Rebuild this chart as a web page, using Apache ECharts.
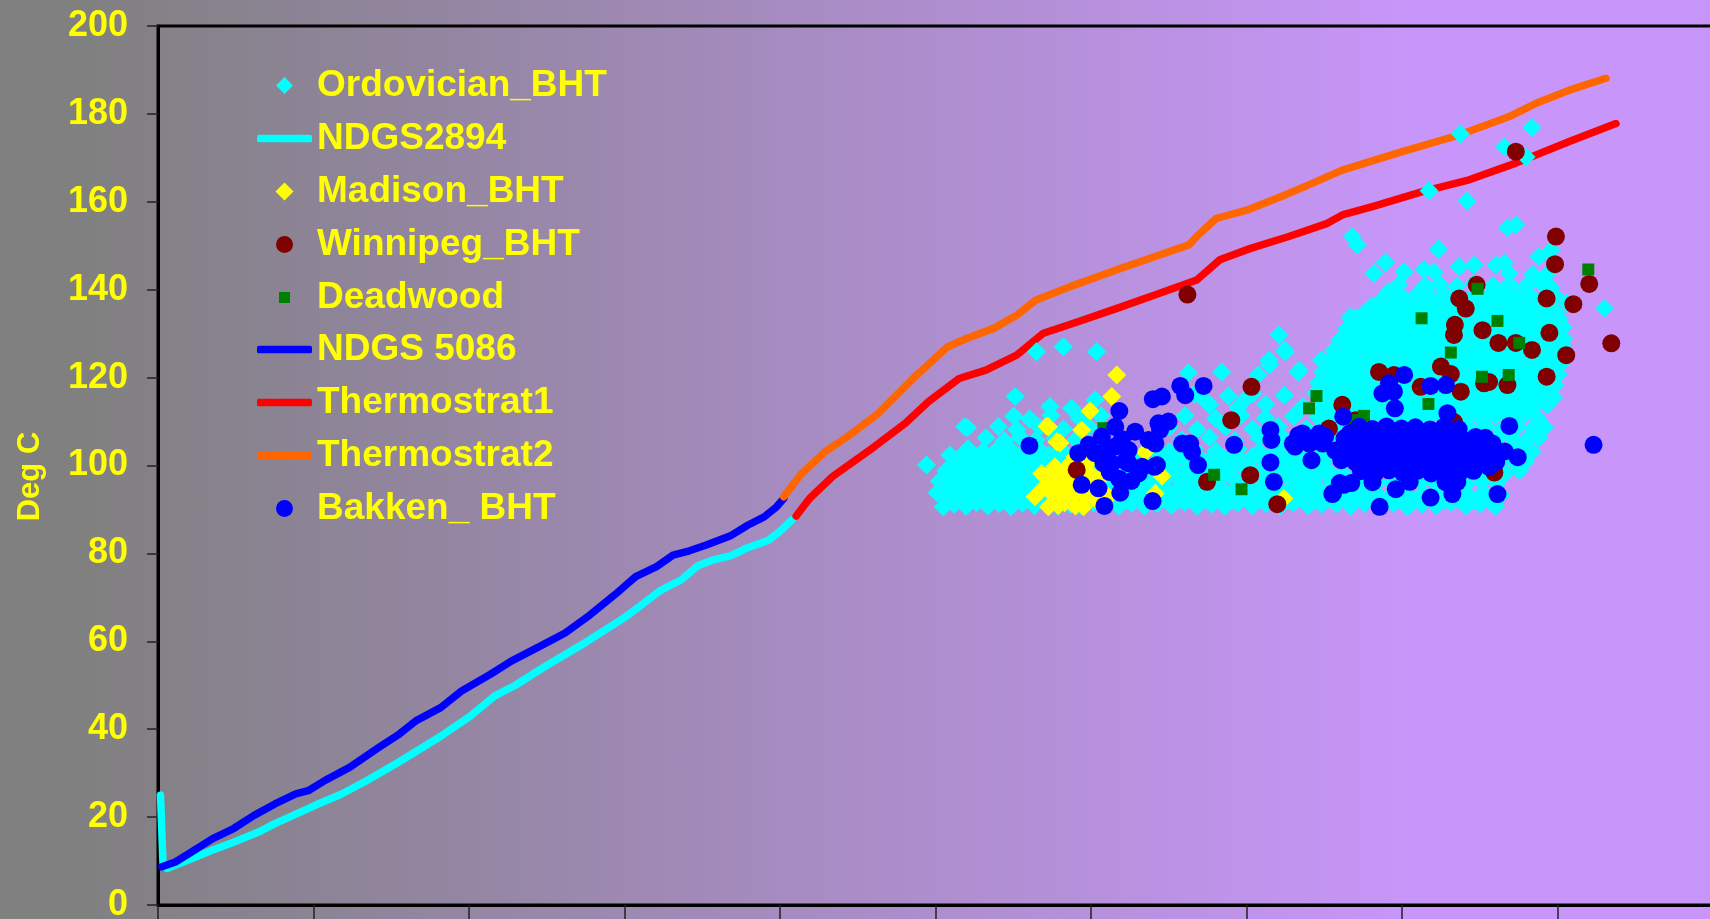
<!DOCTYPE html>
<html>
<head>
<meta charset="utf-8">
<script src="https://cdn.jsdelivr.net/npm/echarts@6/dist/echarts.min.js"></script>
<style>
  html, body { margin: 0; padding: 0; }
  #chart {
    width: 1710px; height: 919px;
    background: linear-gradient(to right, #808080 0px, #808080 80px, #C896FA 1420px, #C896FA 1710px);
  }
</style>
</head>
<body>
<div id="chart"></div>
<script>
// Depth (m) vs temperature (deg C): Williston basin temperature logs and bottom-hole temperatures.

// Temperature logs [depth, temp]
const ndgs2894 = [
  [8,25],[16,9.5],[29,8.3],[109,10.6],[176,12.5],[243,14.3],[323,16.6],[376,18.5],[509,22.8],[589,25.2],
  [669,28.2],[776,32.6],[909,38.4],[1003,42.9],[1083,47.6],[1149,50.0],[1243,54.2],[1376,59.8],[1496,65.2],
  [1549,68.0],[1616,71.6],[1683,74.0],[1736,77.2],[1789,78.6],[1843,79.5],[1896,81.3],[1963,83.0],[2003,85.2],[2038,87.6]
];
const ndgs5086 = [
  [12,8.7],[56,9.8],[109,12.1],[176,15.1],[243,17.4],[309,20.4],[376,23.0],[443,25.3],[483,26.0],[536,28.3],
  [616,31.3],[709,35.8],[776,38.9],[829,41.9],[909,44.9],[976,48.7],[1069,52.5],[1136,55.5],[1229,58.9],
  [1309,61.9],[1389,66.0],[1469,70.6],[1536,74.7],[1603,77.0],[1656,79.6],[1709,80.6],[1763,81.9],
  [1843,84.1],[1896,86.4],[1949,88.3],[1989,90.6],[2012,92.5]
];
const thermostrat1 = [
  [2052,88.5],[2095,92.5],[2169,97.5],[2304,104.3],[2403,109.6],[2477,114.5],[2576,119.8],[2662,121.7],
  [2761,125.1],[2847,130.1],[2958,132.7],[3081,135.7],[3205,138.8],[3340,142.2],[3414,146.8],[3513,149.4],
  [3636,152.1],[3760,155.1],[3808,157.0],[3905,158.9],[4066,162.3],[4216,165.0],[4366,168.8],[4538,173.7],[4688,177.8]
];
const thermostrat2 = [
  [2012,92.9],[2070,98.2],[2144,103.1],[2218,106.6],[2317,111.9],[2440,120.6],[2539,127.0],[2600,128.9],
  [2687,131.2],[2761,134.2],[2822,137.6],[2933,140.7],[3081,144.5],[3204,147.5],[3315,150.2],[3340,152.1],
  [3402,156.2],[3501,158.1],[3612,161.2],[3698,163.8],[3808,167.2],[4001,171.4],[4184,175.2],[4345,179.4],
  [4431,182.4],[4538,185.4],[4656,188.1]
];

// Bottom-hole temperatures [depth, temp]
const ordovicianShallow = [
  [2525,90.6],[2560,91.2],[2598,90.7],[2632,91.5],[2668,90.8],[2705,91.3],[2742,90.6],[2780,91.4],[2818,90.9],[2856,91.6],
  [2893,90.7],[2932,91.2],[2968,90.8],[3008,91.5],[3048,90.9],
  [2540,92.2],[2580,92.0],[2620,92.4],[2660,92.1],[2700,92.3],[2740,92.0],[2780,92.4],[2820,92.1],[2862,92.3],[2905,92.0],[2948,92.4],[2990,92.1],[3030,92.3],
  [2505,93.8],[2545,93.2],[2582,94.0],[2620,93.4],[2658,93.9],[2694,93.1],[2733,93.7],[2772,93.3],[2810,94.1],[2850,93.5],
  [2895,93.9],[2940,93.2],[2985,93.8],[3030,93.4],
  [2525,94.7],[2565,94.5],[2605,94.9],[2645,94.6],[2685,94.8],[2725,94.5],[2765,94.9],[2808,94.6],[2850,94.8],[2892,94.5],[2935,94.9],[2978,94.6],[3020,94.8],
  [2512,96.4],[2556,95.8],[2602,96.5],[2641,95.9],[2683,96.3],[2722,95.7],[2763,96.6],[2803,96.0],[2846,96.4],[2890,95.8],
  [2932,96.5],[2982,96.1],[3042,96.3],
  [2535,97.2],[2578,97.0],[2620,97.4],[2662,97.1],[2705,97.3],[2748,97.0],[2790,97.4],[2833,97.1],[2875,97.3],[2918,97.0],[2960,97.4],[3005,97.1],[3050,97.3],
  [2533,98.8],[2578,98.2],[2622,98.9],[2662,98.3],[2703,98.7],[2748,98.1],[2792,98.9],[2836,98.4],[2882,98.8],[2931,98.2],
  [2992,98.6],[3052,98.9],
  [2550,99.7],[2595,99.5],[2640,99.9],[2685,99.6],[2730,99.8],[2775,99.5],[2820,99.9],[2865,99.6],[2910,99.8],[2960,99.5],[3010,99.9],
  [2566,101.3],[2611,100.7],[2654,101.4],[2697,100.9],[2741,101.5],[2787,100.8],[2832,101.2],[2881,100.7],[2942,101.4],[3003,101.0],
  [2585,102.2],[2632,102.0],[2680,102.4],[2725,102.1],[2770,102.3],[2815,102.0],[2865,102.4],[2920,102.1],[2980,102.3],[3040,102.0],
  [2604,103.8],[2652,103.2],[2702,103.9],[2746,103.3],[2793,103.7],[2842,103.1],[2902,103.8],[2962,103.4],[3022,103.9],
  [2662,106.3],[2721,105.7],[2772,106.4],[2823,105.8],[2884,106.2],[2951,105.9],
  [2603,108.6],[2702,108.9],[2761,108.2],[2834,108.7],[2912,108.3],[2993,108.8],
  [2752,111.2],[2803,110.6],[2871,111.4],[2962,110.8],[3032,111.3],
  [2471,100.1],[2546,102.4],[2594,108.8],[2756,115.7],[2825,125.9],[2911,127.0],[3018,125.9],[2868,113.4],[2938,113.0],[3013,114.9]
];
const ordovicianMiddle = [
  [3090,90.8],[3131,91.4],[3172,90.7],[3213,91.3],[3258,90.9],[3301,91.6],[3342,90.8],[3388,91.2],[3431,90.7],[3472,91.5],
  [3519,90.9],[3562,91.3],[3608,90.7],[3651,91.4],[3698,90.9],[3742,91.2],
  [3070,92.2],[3112,92.0],[3155,92.4],[3195,92.1],[3235,92.3],[3280,92.0],[3322,92.4],[3365,92.1],[3410,92.3],[3452,92.0],
  [3495,92.4],[3540,92.1],[3585,92.3],[3630,92.0],[3675,92.4],[3720,92.1],[3762,92.3],
  [3102,93.7],[3151,93.2],[3199,93.9],[3252,93.3],[3298,93.8],[3351,93.1],[3402,93.7],[3449,93.4],[3501,93.9],[3552,93.2],
  [3598,93.8],[3652,93.3],[3703,93.9],[3751,93.4],
  [3062,94.7],[3105,94.5],[3150,94.9],[3195,94.6],[3240,94.8],[3285,94.5],[3330,94.9],[3375,94.6],[3420,94.8],[3465,94.5],
  [3510,94.9],[3555,94.6],[3600,94.8],[3645,94.5],[3690,94.9],[3735,94.6],
  [3112,96.2],[3171,95.8],[3229,96.5],[3291,95.9],[3352,96.4],[3409,95.7],[3471,96.3],[3532,95.8],[3589,96.6],[3651,96.0],[3712,96.4],
  [3095,97.2],[3140,97.0],[3185,97.4],[3230,97.1],[3275,97.3],[3320,97.0],[3365,97.4],[3410,97.1],[3455,97.3],[3500,97.0],
  [3545,97.4],[3590,97.1],[3635,97.3],[3680,97.0],[3725,97.4],
  [3141,98.7],[3202,98.2],[3261,98.9],[3322,98.3],[3379,98.8],[3441,98.1],[3502,98.7],[3561,98.3],[3622,98.9],[3681,98.2],[3741,98.6],
  [3060,99.7],[3110,99.5],[3160,99.9],[3210,99.6],[3260,99.8],[3310,99.5],[3360,99.9],[3410,99.6],[3460,99.8],[3510,99.5],
  [3560,99.9],[3610,99.6],[3660,99.8],[3710,99.5],
  [3162,101.2],[3231,100.7],[3302,101.4],[3369,100.8],[3432,101.3],[3491,100.7],[3552,101.4],[3612,100.9],[3679,101.2],[3742,100.8],
  [3100,102.2],[3160,102.0],[3220,102.4],[3280,102.1],[3340,102.3],[3400,102.0],[3460,102.4],[3520,102.1],[3580,102.3],[3640,102.0],[3700,102.4],
  [3182,103.7],[3252,103.2],[3331,103.9],[3401,103.3],[3472,103.8],[3541,103.2],[3602,103.7],[3671,103.4],[3731,103.9],
  [3203,106.2],[3292,105.8],[3381,106.4],[3462,105.7],[3541,106.3],[3622,105.9],[3701,106.2],
  [3252,108.7],[3341,108.2],[3432,108.8],[3521,108.3],[3601,108.9],[3692,108.4],
  [3302,111.3],[3401,110.7],[3482,111.4],[3561,110.8],[3652,111.2],[3731,110.9],
  [3381,113.8],[3472,113.2],[3562,113.9],[3681,113.4],
  [3332,116.2],[3442,115.8],[3521,116.4],[3622,116.0],[3722,116.5],
  [3313,121.1],[3420,121.3],[3365,114.9],[3494,114.9],[3537,120.6],[3574,122.9],[3605,129.7],[3623,126.3],[3666,121.3],
  [3741,124.0],[3796,122.9],[3833,133.8],[3858,129.3],[3572,124.0],[3625,125.8],[3669,121.7],[3733,118.8]
];
const ordovicianDeep = [
  [3790,91.2],[3835,90.7],[3880,91.4],[3925,90.8],[3972,91.3],[4018,90.6],[4065,91.2],[4110,90.9],[4157,91.5],[4205,90.8],[4252,91.3],[4300,90.7],
  [3805,92.2],[3850,92.0],[3895,92.4],[3940,92.1],[3990,92.3],[4040,92.0],[4090,92.4],[4135,92.1],[4180,92.3],[4230,92.0],[4275,92.4],
  [3780,93.6],[3830,93.2],[3878,93.9],[3924,93.3],[3971,93.8],[4020,93.2],[4068,93.7],[4115,93.3],[4163,93.9],[4211,93.4],[4262,93.8],[4318,93.3],
  [3775,96.3],[3822,95.8],[3870,96.4],[3918,95.9],[3966,96.2],[4014,95.7],[4062,96.4],[4110,95.9],[4158,96.3],[4206,95.8],[4256,96.4],[4306,95.9],
  [3762,98.8],[3808,98.3],[4282,98.7],[4331,98.2],[4378,98.9],
  [3752,101.3],[4301,100.8],[4350,101.4],[4398,100.9],
  [3768,103.8],[4322,103.3],[4371,103.9],[4418,103.2],
  [3790,106.2],[4301,105.8],[4352,106.4],[4402,105.9],[4440,106.3],
  [3781,108.7],[4222,108.3],[4271,108.9],[4322,108.2],[4371,108.8],[4420,108.4],[4458,108.7],
  [3760,111.2],[3805,110.8],[3851,111.4],[3896,110.9],[3941,111.3],[3985,110.7],[4031,111.2],[4076,110.8],[4121,111.4],[4166,110.9],
  [4211,111.2],[4255,110.7],[4301,111.3],[4345,110.9],[4391,111.4],[4436,110.8],
  [3785,112.3],[3830,112.1],[3875,112.5],[3920,112.2],[3965,112.4],[4010,112.0],[4055,112.4],[4100,112.2],[4145,112.5],[4190,112.1],
  [4235,112.3],[4280,112.0],[4325,112.4],[4370,112.2],[4415,112.5],
  [3742,113.7],[3787,113.2],[3832,113.9],[3878,113.3],[3923,113.8],[3968,113.2],[4013,113.7],[4058,113.3],[4104,113.9],[4149,113.4],
  [4194,113.8],[4239,113.2],[4284,113.7],[4330,113.3],[4376,113.9],[4421,113.4],[4466,113.8],
  [3765,114.8],[3810,114.6],[3855,115.0],[3900,114.7],[3945,114.9],[3990,114.5],[4035,114.9],[4080,114.7],[4125,115.0],[4170,114.6],
  [4215,114.8],[4260,114.5],[4305,114.9],[4350,114.7],[4395,115.0],[4440,114.6],[4478,114.8],
  [3745,116.2],[3790,115.8],[3836,116.4],[3881,115.9],[3926,116.3],[3971,115.7],[4016,116.2],[4062,115.8],[4107,116.4],[4152,115.9],
  [4197,116.3],[4243,115.7],[4288,116.2],[4333,115.8],[4378,116.4],[4424,115.9],[4469,116.3],[4488,115.5],
  [3755,117.3],[3800,117.1],[3845,117.5],[3890,117.2],[3935,117.4],[3980,117.0],[4025,117.4],[4070,117.2],[4115,117.5],[4160,117.1],
  [4205,117.3],[4250,117.0],[4295,117.4],[4340,117.2],[4385,117.5],[4430,117.1],[4475,117.3],
  [3733,118.7],[3778,118.2],[3823,118.9],[3869,118.3],[3914,118.8],[3959,118.2],[4004,118.7],[4049,118.3],[4095,118.9],[4140,118.4],
  [4185,118.8],[4230,118.2],[4276,118.7],[4321,118.3],[4366,118.9],[4411,118.4],[4456,118.8],[4492,118.3],
  [3755,119.8],[3800,119.6],[3846,120.0],[3891,119.7],[3936,119.9],[3981,119.5],[4027,119.9],[4072,119.7],[4117,120.0],[4162,119.6],
  [4208,119.8],[4253,119.5],[4298,119.9],[4343,119.7],[4389,120.0],[4434,119.6],[4480,119.8],
  [3744,121.2],[3789,120.8],[3835,121.4],[3880,120.9],[3925,121.3],[3970,120.7],[4016,121.2],[4061,120.8],[4106,121.4],[4151,120.9],
  [4197,121.3],[4242,120.7],[4287,121.2],[4332,120.8],[4378,121.4],[4423,120.9],[4468,121.3],[4502,120.8],
  [3766,122.3],[3812,122.1],[3857,122.5],[3902,122.2],[3947,122.4],[3993,122.0],[4038,122.4],[4083,122.2],[4128,122.5],[4174,122.1],
  [4219,122.3],[4264,122.0],[4309,122.4],[4355,122.2],[4400,122.5],[4445,122.1],[4490,122.3],
  [3762,123.7],[3807,123.2],[3852,123.9],[3898,123.3],[3943,123.8],[3988,123.2],[4033,123.7],[4079,123.3],[4124,123.9],[4169,123.4],
  [4214,123.8],[4260,123.2],[4305,123.7],[4350,123.3],[4395,123.9],[4441,123.4],[4486,123.8],[4512,123.2],
  [3784,124.8],[3829,124.6],[3875,125.0],[3920,124.7],[3965,124.9],[4010,124.5],[4056,124.9],[4101,124.7],[4146,125.0],[4191,124.6],
  [4237,124.8],[4282,124.5],[4327,124.9],[4372,124.7],[4418,125.0],[4463,124.6],[4508,124.8],
  [3781,126.2],[3826,125.8],[3871,126.4],[3917,125.9],[3962,126.3],[4007,125.7],[4052,126.2],[4098,125.8],[4143,126.4],[4188,125.9],
  [4233,126.3],[4279,125.7],[4324,126.2],[4369,125.8],[4414,126.4],[4460,125.9],[4505,126.3],[4522,125.6],
  [3803,127.3],[3848,127.1],[3894,127.5],[3939,127.2],[3984,127.4],[4029,127.0],[4075,127.4],[4120,127.2],[4165,127.5],[4210,127.1],
  [4256,127.3],[4301,127.0],[4346,127.4],[4391,127.2],[4437,127.5],[4482,127.1],[4515,127.3],
  [3802,128.7],[3847,128.2],[3893,128.9],[3938,128.3],[3983,128.8],[4028,128.2],[4074,128.7],[4119,128.3],[4164,128.9],[4209,128.4],
  [4255,128.8],[4300,128.2],[4345,128.7],[4390,128.3],[4436,128.9],[4481,128.4],[4520,128.8],
  [3824,129.8],[3870,129.6],[3915,130.0],[3960,129.7],[4005,129.9],[4051,129.5],[4096,129.9],[4141,129.7],[4186,130.0],[4232,129.6],
  [4277,129.8],[4322,129.5],[4367,129.9],[4413,129.7],[4458,130.0],[4503,129.6],
  [3822,131.2],[3868,130.8],[3913,131.4],[3958,130.9],[4003,131.3],[4049,130.7],[4094,131.2],[4139,130.8],[4184,131.4],[4230,130.9],
  [4275,131.3],[4320,130.7],[4365,131.2],[4411,130.8],[4456,131.4],[4501,130.9],[4518,131.5],
  [3845,132.3],[3890,132.1],[3935,132.5],[3981,132.2],[4026,132.4],[4071,132.0],[4116,132.4],[4162,132.2],[4207,132.5],[4252,132.1],
  [4297,132.3],[4343,132.0],[4388,132.4],[4433,132.2],[4478,132.5],[4510,132.1],
  [3851,133.7],[3896,133.2],[3941,133.9],[3987,133.3],[4032,133.8],[4077,133.2],[4122,133.7],[4168,133.3],[4213,133.9],[4258,133.4],
  [4303,133.8],[4349,133.2],[4394,133.7],[4439,133.3],[4484,133.9],[4505,133.4],
  [3880,134.8],[3926,134.6],[3971,135.0],[4016,134.7],[4061,134.9],[4107,134.5],[4152,134.9],[4197,134.7],[4242,135.0],[4288,134.6],
  [4333,134.8],[4378,134.5],[4423,134.9],[4469,134.7],[4495,135.0],
  [3903,136.2],[3948,135.8],[3993,136.4],[4039,135.9],[4084,136.3],[4129,135.7],[4174,136.2],[4220,135.8],[4265,136.4],[4310,135.9],
  [4355,136.3],[4401,135.7],[4446,136.2],[4482,135.8],
  [3930,137.3],[3981,137.1],[4026,137.5],[4071,137.2],[4117,137.4],[4162,137.0],[4207,137.4],[4252,137.2],[4298,137.5],[4343,137.1],
  [4388,137.3],[4433,137.0],[4478,137.4],
  [3958,138.7],[4004,138.2],[4049,138.9],[4094,138.3],[4139,138.8],[4185,138.2],[4230,138.7],[4275,138.3],[4320,138.9],[4366,138.4],
  [4411,138.8],[4456,138.2],[4490,138.7],
  [3990,141.2],[4071,140.7],[4120,141.3],[4176,140.8],[4230,141.4],[4292,140.9],[4345,141.2],[4398,140.7],[4450,141.3],[4480,140.5],
  [3910,143.7],[4007,144.1],[4071,144.6],[4103,144.1],[4076,140.7],[3956,139.5],[4184,145.2],[4232,145.6],[4302,145.6],[4329,146.1],
  [4345,143.7],[4420,143.5],[4470,143.8],
  [3947,146.2],[3840,152.1],[3856,150.2],[4117,149.2],[4479,149.0],[4651,135.8],[4188,175.4],[4087,162.5],[4329,172.5],[4399,170.2],
  [4418,176.9],[4209,160.2],[4339,154.1],[4366,154.7],[4440,147.5],[4530,137.0]
];
const ordovicianBHT = ordovicianShallow.concat(ordovicianMiddle, ordovicianDeep);

const madisonBHT = [
  [3083,120.6],[3067,115.7],[2997,112.4],[2858,109.0],[2970,108.1],[2900,105.1],[2949,102.0],[2885,99.3],[2852,97.4],[2820,92.9],
  [2863,90.6],[2841,98.2],[2884,99.7],[2863,95.9],[2906,92.9],[2927,95.9],[2938,91.4],[2970,100.5],[2992,94.4],[3035,97.4],
  [3056,92.9],[2976,90.6],[2890,105.4],[2863,108.8],[3228,97.6],[3207,93.7],[3174,103.1],[3620,92.5],[3010,96.0],[2955,97.5],
  [2880,93.2],[2915,98.0],[2948,93.6],[2960,96.3],[2998,98.2],[3018,92.1],[2895,90.9],[2842,94.6],[2930,100.2],[3003,101.6],
  [2905,97.0],[2925,93.8],[2945,95.5],[2965,98.5],[2985,92.8],[2915,91.5],[2950,90.8],[3000,96.5],[2890,95.0],[2870,97.8]
];
const winnipegBHT = [
  [3310,138.9],[4366,171.4],[4495,152.1],[4492,145.8],[4602,141.3],[4551,136.7],[4673,127.8],[4240,141.1],[4465,138.0],[4184,138.0],
  [4205,135.7],[4170,132.0],[4167,129.7],[4259,130.8],[4310,127.9],[4366,127.9],[4418,126.3],[4474,130.2],[4528,125.1],[4465,120.2],
  [3926,121.3],[3974,120.6],[4125,122.5],[4157,120.8],[4060,117.9],[4189,116.8],[4264,118.7],[4280,119.0],[4339,118.3],[3808,113.8],
  [4167,109.9],[3765,108.4],[3851,110.3],[4297,98.4],[2954,99.0],[3451,110.3],[3516,117.9],[3373,96.3],[3512,97.8],[3599,91.2]
];
const deadwood = [
  [4599,144.6],[4243,140.2],[4063,133.5],[4307,132.9],[4377,127.9],[4157,125.7],[4257,120.2],[4343,120.6],[4085,114.0],[3725,115.8],
  [3701,113.0],[3878,111.3],[3851,110.3],[3396,97.9],[3484,94.6],[3040,108.5]
];
const bakkenBHT = [
  [2802,104.5],[3091,112.4],[3078,108.8],[3035,106.6],[2992,104.7],[3013,102.8],[3078,104.3],[3121,103.5],[3142,107.7],[3067,100.5],
  [3121,100.5],[3164,99.7],[3153,98.2],[3212,100.1],[3207,105.0],[3185,105.8],[2970,95.6],[3024,94.8],[3094,93.8],[3043,90.8],
  [3198,91.9],[3199,115.1],[3228,115.7],[3287,118.1],[3303,116.0],[3362,118.1],[3217,109.6],[3249,110.0],[3222,108.1],[3293,105.0],
  [3319,105.0],[3325,103.1],[3344,100.1],[3460,104.7],[3577,108.1],[3580,105.8],[3577,100.7],[3588,96.3],[3667,106.9],[3649,105.0],
  [3745,105.0],[2959,102.8],[3050,104.0],[3100,106.0],[3110,101.0],[3060,98.5],[3090,97.0],[3130,96.5],[3040,100.5],[3204,99.7],
  [3709,101.2],[3800,103.5],[3811,111.1],[3836,107.4],[3800,96.0],[3837,96.0],[3778,93.7],
  [4007,120.6],[3958,118.7],[3937,116.4],[3974,116.8],[3977,113.0],[4092,118.1],[4141,118.3],[4146,111.9],[4345,109.0],[4372,101.9],
  [4616,104.7],[4307,93.5],[4092,92.7],[4162,93.5],[3928,90.6],[3980,94.6],[3776,93.5],[3813,95.6],[3656,104.3],[3753,106.6],
  [3832,107.3],[3680,107.3],[3734,107.3],[3702,105.0],[4178,96.3],[4259,102.0],[4280,99.7],[4291,105.0],[4237,106.5],[4216,103.2],
  [3862,108.8],[3905,108.3],[3950,108.9],[3998,108.4],[4043,108.7],[4090,108.2],[4135,108.8],[4182,108.3],
  [3815,106.2],[3858,105.7],[3903,106.4],[3948,105.9],[3993,106.3],[4040,105.8],[4085,106.4],[4130,105.9],[4176,106.2],[4222,105.8],[4268,106.3],
  [3785,103.4],[3830,103.9],[3876,103.2],[3921,103.8],[3966,103.3],[4011,103.9],[4057,103.4],[4102,103.8],[4147,103.2],[4193,103.7],
  [4240,103.3],[4286,103.8],[4330,103.2],
  [3805,101.2],[3851,100.7],[3896,101.3],[3941,100.8],[3986,101.4],[4031,100.9],[4077,101.2],[4122,100.7],[4167,101.3],[4213,100.9],
  [4258,101.4],[4303,100.8],
  [3868,98.7],[3913,98.2],[3958,98.9],[4003,98.3],[4049,98.8],[4094,98.2],[4139,98.7],[4185,98.3],[4230,98.8],
  [3905,96.2],[4025,96.3],[4140,96.2]
];

// Axis ranges
const depthRange = { min: 0, max: 5000, step: 500 };
const tempRange = { min: 0, max: 200, step: 20 };

const FONT = 'Liberation Sans, Arial, sans-serif';
const YELLOW = '#FFFF00';
const LINE_W = 7.5;

// Legend rows, top to bottom; line rows use a 55px stroke, marker rows a centred symbol
const legendRows = [
  { name: 'Ordovician_BHT', icon: 'diamond', size: 17 },
  { name: 'NDGS2894', icon: 'roundRect', size: 0 },
  { name: 'Madison_BHT', icon: 'diamond', size: 18 },
  { name: 'Winnipeg_BHT', icon: 'circle', size: 17 },
  { name: 'Deadwood', icon: 'rect', size: 11 },
  { name: 'NDGS 5086', icon: 'roundRect', size: 0 },
  { name: 'Thermostrat1', icon: 'roundRect', size: 0 },
  { name: 'Thermostrat2', icon: 'roundRect', size: 0 },
  { name: 'Bakken_ BHT', icon: 'circle', size: 17 }
];
const LEG_ICON_LEFT = 257, LEG_ICON_W = 55, LEG_TEXT_X = 317;

function legendFor(r, i) {
  const isLine = r.size === 0;
  const w = isLine ? LEG_ICON_W : r.size;
  const h = isLine ? LINE_W : r.size;
  const left = isLine ? LEG_ICON_LEFT : LEG_ICON_LEFT + LEG_ICON_W / 2 - r.size / 2;
  const pad = LEG_TEXT_X - (left + w + 5);
  return {
    data: [r.name],
    left, top: Math.round(83.3 + 52.8 * i - 16),
    orient: 'vertical', padding: 0, itemGap: 0,
    itemWidth: w, itemHeight: h, icon: r.icon,
    selectedMode: false,
    textStyle: { color: YELLOW, fontSize: 37, fontWeight: 'bold', fontFamily: FONT, padding: [0, 0, 0, pad] }
  };
}

function lineSeries(name, data, color) {
  return {
    name, type: 'line', data, z: 2, clip: false,
    symbol: 'none', showSymbol: false, smooth: false,
    itemStyle: { color },
    lineStyle: { color, width: LINE_W, cap: 'round', join: 'round' },
    emphasis: { disabled: true }, animation: false
  };
}
function scatterSeries(name, data, color, symbol, size) {
  return {
    name, type: 'scatter', data, z: 3,
    symbol, symbolSize: size,
    itemStyle: { color, opacity: 1 },
    emphasis: { disabled: true }, animation: false, large: false
  };
}

const chart = echarts.init(document.getElementById('chart'), null, { renderer: 'canvas' });
chart.setOption({
  backgroundColor: 'transparent',
  animation: false,
  grid: {
    left: 158, top: 26, width: 1555, bottom: 14,
    show: true, borderColor: '#000', borderWidth: 3, backgroundColor: 'transparent',
    outerBoundsMode: 'none'
  },
  xAxis: {
    type: 'value', min: depthRange.min, max: depthRange.max, interval: depthRange.step,
    axisLine: { show: true, onZero: false, lineStyle: { color: '#000', width: 3 } },
    axisTick: { show: true, inside: false, length: 14, lineStyle: { color: '#222', width: 1.5 } },
    axisLabel: { show: false },
    splitLine: { show: false }
  },
  yAxis: {
    type: 'value', min: tempRange.min, max: tempRange.max, interval: tempRange.step,
    name: 'Deg C', nameLocation: 'middle', nameRotate: 90, nameGap: 112,
    nameTextStyle: { color: YELLOW, fontSize: 31, fontWeight: 'bold', fontFamily: FONT, padding: [0, 22, 0, 0] },
    axisLine: { show: true, onZero: false, lineStyle: { color: '#000', width: 3 } },
    axisTick: { show: true, inside: false, length: 11, lineStyle: { color: '#222', width: 1.5 } },
    axisLabel: { color: YELLOW, fontSize: 36, fontWeight: 'bold', fontFamily: FONT, margin: 30 },
    splitLine: { show: false }
  },
  legend: legendRows.map(legendFor),
  series: [
    scatterSeries('Ordovician_BHT', ordovicianBHT, '#00FFFF', 'diamond', 19),
    lineSeries('NDGS2894', ndgs2894, '#00FFFF'),
    scatterSeries('Madison_BHT', madisonBHT, '#FFFF00', 'diamond', 19),
    scatterSeries('Winnipeg_BHT', winnipegBHT, '#800000', 'circle', 18),
    scatterSeries('Deadwood', deadwood, '#008000', 'rect', 12),
    lineSeries('NDGS 5086', ndgs5086, '#0000FF'),
    lineSeries('Thermostrat1', thermostrat1, '#FF0000'),
    lineSeries('Thermostrat2', thermostrat2, '#FF6600'),
    scatterSeries('Bakken_ BHT', bakkenBHT, '#0000FF', 'circle', 18)
  ]
});
</script>
</body>
</html>
